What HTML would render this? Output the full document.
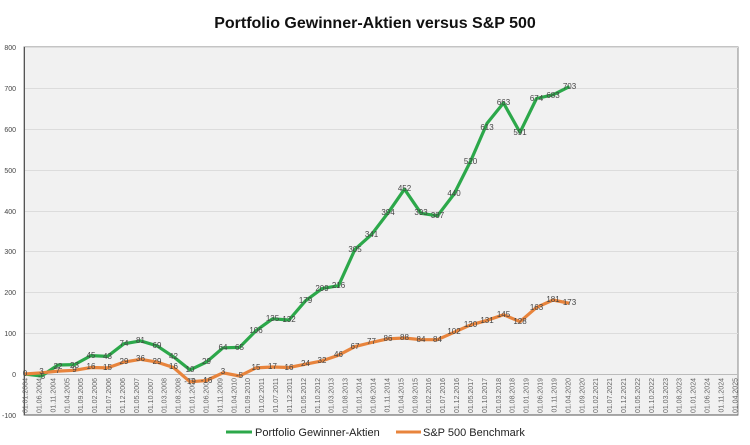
<!DOCTYPE html>
<html><head><meta charset="utf-8"><style>
html,body{margin:0;padding:0;background:#fff;}
svg{display:block;font-family:"Liberation Sans",sans-serif;}
</style></head><body>
<svg width="750" height="445" viewBox="0 0 750 445" xmlns="http://www.w3.org/2000/svg">
<rect width="750" height="445" fill="#fff"/>
<text x="375" y="28" text-anchor="middle" font-size="16" font-weight="bold" fill="#111">Portfolio Gewinner-Aktien versus S&amp;P 500</text>
<rect x="24" y="47" width="714" height="368" fill="#f1f1f1" stroke="#888" stroke-width="1"/>
<g stroke="#dcdcdc" stroke-width="1">
<line x1="24" x2="738" y1="47.5" y2="47.5"/><line x1="24" x2="738" y1="88.5" y2="88.5"/>
<line x1="24" x2="738" y1="129.5" y2="129.5"/><line x1="24" x2="738" y1="170.5" y2="170.5"/>
<line x1="24" x2="738" y1="211.5" y2="211.5"/><line x1="24" x2="738" y1="251.5" y2="251.5"/>
<line x1="24" x2="738" y1="292.5" y2="292.5"/><line x1="24" x2="738" y1="333.5" y2="333.5"/>
</g>
<line x1="24" x2="738" y1="374.5" y2="374.5" stroke="#bbb"/>
<line x1="24.5" x2="24.5" y1="47" y2="415" stroke="#555"/>
<line x1="24" x2="738" y1="415" y2="415" stroke="#555"/>
<g font-size="7" fill="#444" text-anchor="end">
<text x="16" y="50">800</text><text x="16" y="91">700</text><text x="16" y="132">600</text>
<text x="16" y="173">500</text><text x="16" y="214">400</text><text x="16" y="254">300</text>
<text x="16" y="295">200</text><text x="16" y="336">100</text><text x="16" y="377">0</text>
<text x="16" y="418">-100</text>
</g>
<g font-size="7" fill="#666" text-anchor="end">
<text transform="translate(27.5,378) rotate(-90)">01.01.2004</text>
<text transform="translate(41.4,378) rotate(-90)">01.06.2004</text>
<text transform="translate(55.3,378) rotate(-90)">01.11.2004</text>
<text transform="translate(69.3,378) rotate(-90)">01.04.2005</text>
<text transform="translate(83.2,378) rotate(-90)">01.09.2005</text>
<text transform="translate(97.1,378) rotate(-90)">01.02.2006</text>
<text transform="translate(111,378) rotate(-90)">01.07.2006</text>
<text transform="translate(124.9,378) rotate(-90)">01.12.2006</text>
<text transform="translate(138.9,378) rotate(-90)">01.05.2007</text>
<text transform="translate(152.8,378) rotate(-90)">01.10.2007</text>
<text transform="translate(166.7,378) rotate(-90)">01.03.2008</text>
<text transform="translate(180.6,378) rotate(-90)">01.08.2008</text>
<text transform="translate(194.5,378) rotate(-90)">01.01.2009</text>
<text transform="translate(208.5,378) rotate(-90)">01.06.2009</text>
<text transform="translate(222.4,378) rotate(-90)">01.11.2009</text>
<text transform="translate(236.3,378) rotate(-90)">01.04.2010</text>
<text transform="translate(250.2,378) rotate(-90)">01.09.2010</text>
<text transform="translate(264.1,378) rotate(-90)">01.02.2011</text>
<text transform="translate(278.1,378) rotate(-90)">01.07.2011</text>
<text transform="translate(292,378) rotate(-90)">01.12.2011</text>
<text transform="translate(305.9,378) rotate(-90)">01.05.2012</text>
<text transform="translate(319.8,378) rotate(-90)">01.10.2012</text>
<text transform="translate(333.7,378) rotate(-90)">01.03.2013</text>
<text transform="translate(347.7,378) rotate(-90)">01.08.2013</text>
<text transform="translate(361.6,378) rotate(-90)">01.01.2014</text>
<text transform="translate(375.5,378) rotate(-90)">01.06.2014</text>
<text transform="translate(389.4,378) rotate(-90)">01.11.2014</text>
<text transform="translate(403.3,378) rotate(-90)">01.04.2015</text>
<text transform="translate(417.3,378) rotate(-90)">01.09.2015</text>
<text transform="translate(431.2,378) rotate(-90)">01.02.2016</text>
<text transform="translate(445.1,378) rotate(-90)">01.07.2016</text>
<text transform="translate(459,378) rotate(-90)">01.12.2016</text>
<text transform="translate(472.9,378) rotate(-90)">01.05.2017</text>
<text transform="translate(486.9,378) rotate(-90)">01.10.2017</text>
<text transform="translate(500.8,378) rotate(-90)">01.03.2018</text>
<text transform="translate(514.7,378) rotate(-90)">01.08.2018</text>
<text transform="translate(528.6,378) rotate(-90)">01.01.2019</text>
<text transform="translate(542.5,378) rotate(-90)">01.06.2019</text>
<text transform="translate(556.5,378) rotate(-90)">01.11.2019</text>
<text transform="translate(570.4,378) rotate(-90)">01.04.2020</text>
<text transform="translate(584.3,378) rotate(-90)">01.09.2020</text>
<text transform="translate(598.2,378) rotate(-90)">01.02.2021</text>
<text transform="translate(612.1,378) rotate(-90)">01.07.2021</text>
<text transform="translate(626.1,378) rotate(-90)">01.12.2021</text>
<text transform="translate(640,378) rotate(-90)">01.05.2022</text>
<text transform="translate(653.9,378) rotate(-90)">01.10.2022</text>
<text transform="translate(667.8,378) rotate(-90)">01.03.2023</text>
<text transform="translate(681.7,378) rotate(-90)">01.08.2023</text>
<text transform="translate(695.7,378) rotate(-90)">01.01.2024</text>
<text transform="translate(709.6,378) rotate(-90)">01.06.2024</text>
<text transform="translate(723.5,378) rotate(-90)">01.11.2024</text>
<text transform="translate(737.4,378) rotate(-90)">01.04.2025</text>
</g>
<polyline fill="none" stroke="#2ca84a" stroke-width="3.2" stroke-linejoin="round" points="25,374 41.5,376 58,365 74.5,364.6 91,355.6 107.5,356.4 124,343.7 140.5,340.9 157,345.8 173.5,356.8 190,369.9 206.5,362.1 223,347.8 239.5,347.4 256,330.7 272.5,318.8 289,320 305.5,300.8 322,288.6 338.5,285.7 355,249.3 371.5,234.6 388,212.9 404.5,189.2 421,213.3 437.5,215.8 454,194.1 470.5,161.4 487,123.4 503.5,103 520,132.4 536.5,98.5 553,94.8 569.5,86.6"/>
<polyline fill="none" stroke="#e8843c" stroke-width="3.2" stroke-linejoin="round" points="25,374 41.5,372.8 58,371.1 74.5,370.3 91,367.5 107.5,367.9 124,362.1 140.5,359.3 157,362.1 173.5,367.5 190,381.8 206.5,380.5 223,372.8 239.5,376 256,367.9 272.5,367 289,367.5 305.5,364.2 322,360.9 338.5,355.2 355,346.6 371.5,342.5 388,338.8 404.5,338 421,339.7 437.5,339.7 454,332.3 470.5,324.9 487,320.4 503.5,314.7 520,321.7 536.5,307.4 553,300 569.5,303.3"/>
<g font-size="8" fill="#444" text-anchor="middle" dominant-baseline="middle">
<text x="25" y="374">0</text><text x="41.5" y="377">-5</text><text x="58" y="367">22</text><text x="74.5" y="366">23</text><text x="91" y="356">45</text><text x="107.5" y="357">43</text><text x="124" y="344">74</text><text x="140.5" y="341">81</text><text x="157" y="346">69</text><text x="173.5" y="357">42</text><text x="190" y="370">10</text><text x="206.5" y="362">29</text><text x="223" y="348">64</text><text x="239.5" y="348">65</text><text x="256" y="331">106</text><text x="272.5" y="319">135</text><text x="289" y="320">132</text><text x="305.5" y="301">179</text><text x="322" y="289">209</text><text x="338.5" y="286">216</text><text x="355" y="250">305</text><text x="371.5" y="235">341</text><text x="388" y="213">394</text><text x="404.5" y="189">452</text><text x="421" y="213">393</text><text x="437.5" y="216">387</text><text x="454" y="194">440</text><text x="470.5" y="162">520</text><text x="487" y="128">613</text><text x="503.5" y="103">663</text><text x="520" y="133">591</text><text x="536.5" y="99">674</text><text x="553" y="96">683</text><text x="569.5" y="87">703</text>
<text x="41.5" y="372">3</text><text x="58" y="371">7</text><text x="74.5" y="370">9</text><text x="91" y="367">16</text><text x="107.5" y="368">15</text><text x="124" y="362">29</text><text x="140.5" y="359">36</text><text x="157" y="362">29</text><text x="173.5" y="367">16</text><text x="190" y="382">-19</text><text x="206.5" y="381">-16</text><text x="223" y="372">3</text><text x="239.5" y="376">-5</text><text x="256" y="368">15</text><text x="272.5" y="367">17</text><text x="289" y="368">16</text><text x="305.5" y="364">24</text><text x="322" y="361">32</text><text x="338.5" y="355">46</text><text x="355" y="347">67</text><text x="371.5" y="342">77</text><text x="388" y="339">86</text><text x="404.5" y="338">88</text><text x="421" y="340">84</text><text x="437.5" y="340">84</text><text x="454" y="332">102</text><text x="470.5" y="325">120</text><text x="487" y="321">131</text><text x="503.5" y="315">145</text><text x="520" y="322">128</text><text x="536.5" y="308">163</text><text x="553" y="300">181</text><text x="569.5" y="303">173</text>
</g>
<line x1="226" x2="252" y1="432" y2="432" stroke="#2ca84a" stroke-width="3"/>
<text x="255" y="436" font-size="11" fill="#222">Portfolio Gewinner-Aktien</text>
<line x1="396" x2="421" y1="432" y2="432" stroke="#e8843c" stroke-width="3"/>
<text x="423" y="436" font-size="11" fill="#222">S&amp;P 500 Benchmark</text>
</svg>
</body></html>
